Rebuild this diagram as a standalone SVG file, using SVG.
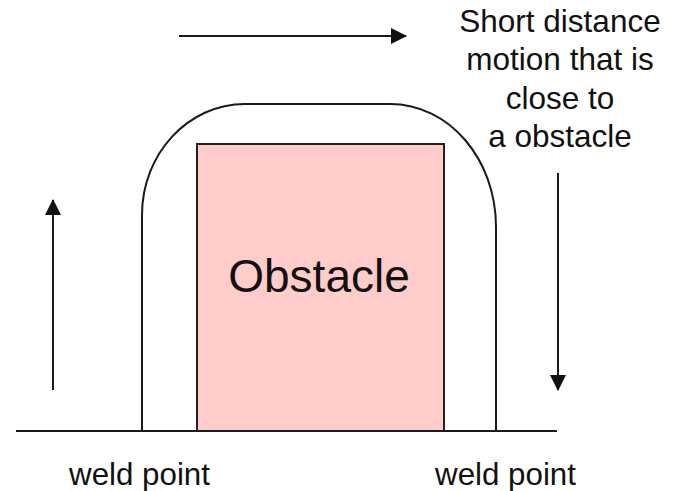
<svg xmlns="http://www.w3.org/2000/svg" width="673" height="491" viewBox="0 0 673 491">
  <style>
    .ln { fill: none; stroke: #1a1a1a; stroke-width: 2; }
    .txt { font-family: "Liberation Sans", Arial, sans-serif; fill: #111; text-anchor: middle; }
  </style>
  <defs>
    <marker id="ah" viewBox="0 0 16 16" refX="15" refY="8" markerWidth="16" markerHeight="16" markerUnits="userSpaceOnUse" orient="auto">
      <path d="M0,0 L16,8 L0,16 Z" fill="#111"/>
    </marker>
  </defs>
  <rect width="673" height="491" fill="#ffffff"/>
  <g id="obstacle">
    <rect x="197" y="144" width="247" height="287" fill="#ffcccc" stroke="#222" stroke-width="2"/>
    <text class="txt" x="319" y="292" font-size="46">Obstacle</text>
  </g>
  <g id="motion-path">
    <path class="ln" d="M142,431 L142,215 C142,154 188,104 245,104 L390,104 C449,104 496,159 496,227 L496,431"/>
  </g>
  <g id="ground">
    <line class="ln" x1="16" y1="431" x2="557" y2="431"/>
  </g>
  <g id="label-note">
    <text class="txt" x="560" y="32" font-size="31.5">Short distance</text>
    <text class="txt" x="560" y="70" font-size="31.5">motion that is</text>
    <text class="txt" x="560" y="109" font-size="31.5">close to</text>
    <text class="txt" x="560" y="147" font-size="31.5">a obstacle</text>
  </g>
  <g id="label-weld-left">
    <text class="txt" x="139.5" y="485" font-size="31.3">weld point</text>
  </g>
  <g id="label-weld-right">
    <text class="txt" x="505.5" y="485" font-size="31.3">weld point</text>
  </g>
  <g id="connectors">
    <line class="ln" x1="53" y1="390" x2="53" y2="200" marker-end="url(#ah)"/>
    <line class="ln" x1="179" y1="36" x2="406" y2="36" marker-end="url(#ah)"/>
    <line class="ln" x1="558" y1="173" x2="558" y2="390" marker-end="url(#ah)"/>
  </g>
</svg>
